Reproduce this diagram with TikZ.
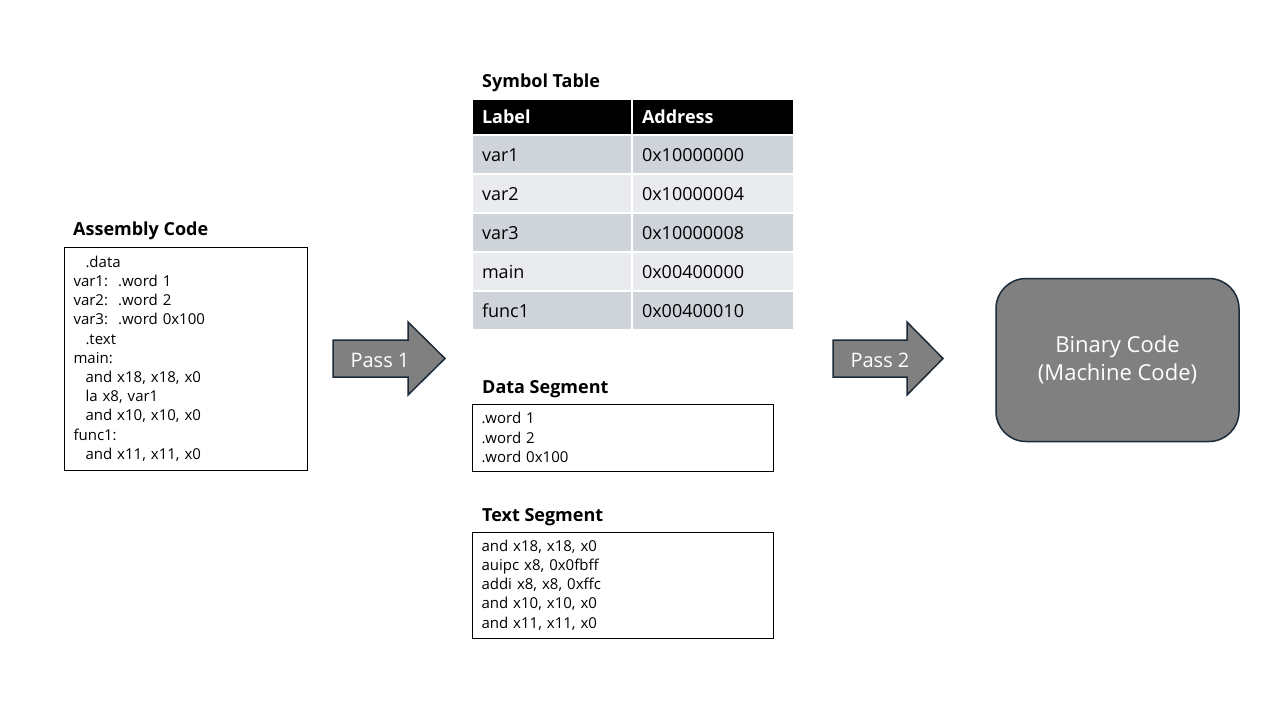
\documentclass[tikz,border=0pt]{standalone}
\usepackage{fontspec}
\setmainfont{Open Sans}
\usetikzlibrary{positioning}
\definecolor{navy}{HTML}{1C2B39}
\definecolor{passgray}{HTML}{808080}
\definecolor{rowdark}{HTML}{CFD4DB}
\definecolor{rowlight}{HTML}{E9EBEE}
\tikzstyle{heading} = [anchor=west, inner sep=0pt, font=\fontsize{18}{22}\selectfont\bfseries]
\tikzstyle{codebox} = [rectangle, draw=black, line width=1pt, outer sep=0pt, anchor=north west, align=left, inner xsep=9.5pt, font=\fontsize{15}{19.2}\selectfont]
\tikzstyle{cell} = [rectangle, draw=white, line width=1.5pt, outer sep=0pt, anchor=north west, inner xsep=10pt, inner ysep=0pt, text width=142pt, text height=16pt, text depth=3pt, minimum height=39pt, align=left, font=\fontsize{18}{22}\selectfont]
\tikzstyle{headcell} = [cell, fill=black, text=white, minimum height=36pt, font=\fontsize{18}{22}\selectfont\bfseries]
\tikzstyle{passarrow} = [fill=passgray, draw=navy, line width=1.5pt, line join=miter]
\tikzstyle{passlabel} = [text=white, font=\fontsize{20}{24}\selectfont]
\tikzstyle{result} = [rectangle, rounded corners=30pt, fill=passgray, draw=navy, line width=1.5pt, minimum width=243pt, minimum height=163pt, align=center, text=white, font=\fontsize{22}{28}\selectfont]

\begin{document}
\begin{tikzpicture}[x=1pt, y=-1pt]
	\useasboundingbox[fill=white] (0,0) rectangle (1280,720);

	% assembly source
	\node (asmtitle) [heading] at (73,231) {Assembly Code};
	\node (asmcode) [codebox, text width=224pt, minimum height=223pt] at (64,247) {\hspace*{12pt}.data\\ var1:~~.word 1\\ var2:~~.word 2\\ var3:~~.word 0x100\\ \hspace*{12pt}.text\\ main:\\ \hspace*{12pt}and x18, x18, x0\\ \hspace*{12pt}la x8, var1\\ \hspace*{12pt}and x10, x10, x0\\ func1:\\ \hspace*{12pt}and x11, x11, x0};

	% pass 1
	\draw[passarrow] (333,340) -- (408,340) -- (408,322) -- (445,358.5) -- (408,395) -- (408,377) -- (333,377) -- cycle;
	\node (pass1) [passlabel] at (380,360) {Pass 1};

	% symbol table
	\node (symtitle) [heading] at (482,83) {Symbol Table};
	\node (hlabel) [headcell] at (472,99) {Label};
	\node (haddr) [headcell] at (632,99) {Address};
	\foreach \lab/\addr/\shade [count=\i from 0] in {var1/0x10000000/rowdark, var2/0x10000004/rowlight, var3/0x10000008/rowdark, main/0x00400000/rowlight, func1/0x00400010/rowdark} {
		\node (lab\i) [cell, fill=\shade] at (472,135+39*\i) {\lab};
		\node (addr\i) [cell, fill=\shade] at (632,135+39*\i) {\addr};
	}

	% segments
	\node (datatitle) [heading] at (482,389) {Data Segment};
	\node (datacode) [codebox, text width=282pt, minimum height=67pt] at (472,404) {.word 1\\ .word 2\\ .word 0x100};
	\node (texttitle) [heading] at (482,517) {Text Segment};
	\node (textcode) [codebox, text width=282pt, minimum height=106pt] at (472,532) {and x18, x18, x0\\ auipc x8, 0x0fbff\\ addi x8, x8, 0xffc\\ and x10, x10, x0\\ and x11, x11, x0};

	% pass 2
	\draw[passarrow] (833,340) -- (907,340) -- (907,322) -- (943,358.5) -- (907,395) -- (907,377) -- (833,377) -- cycle;
	\node (pass2) [passlabel] at (880,360) {Pass 2};

	\node (binary) [result] at (1117.5,360) {Binary Code\\ (Machine Code)};
\end{tikzpicture}
\end{document}
